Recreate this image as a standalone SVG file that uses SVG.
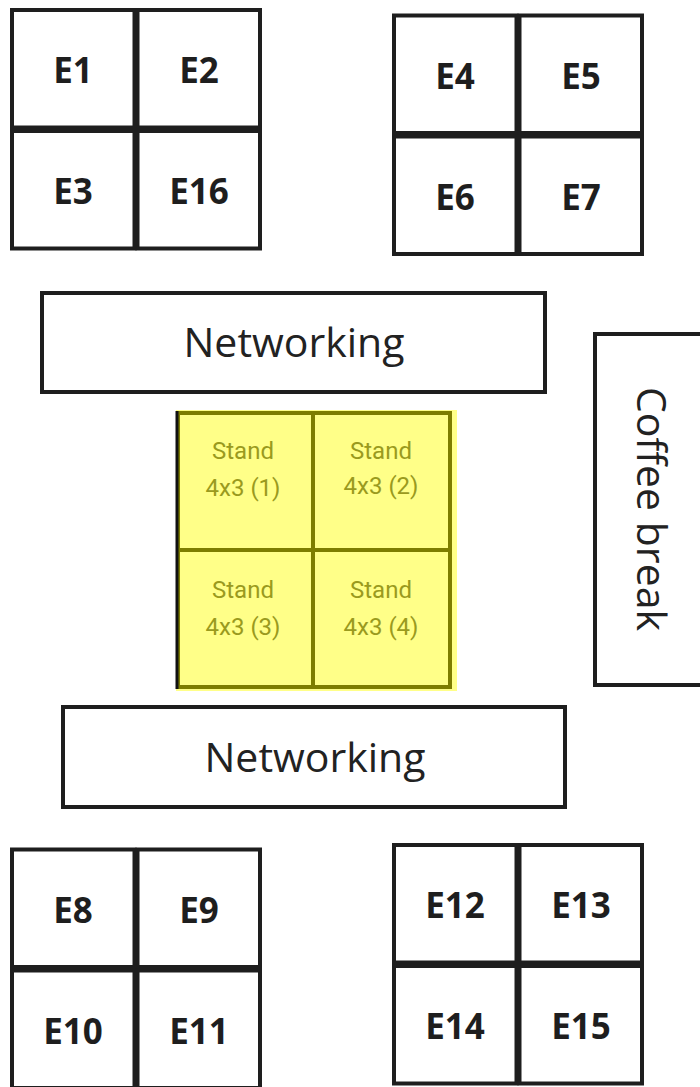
<svg xmlns="http://www.w3.org/2000/svg" width="700" height="1087" viewBox="0 0 700 1087">
<style>
  .cell { fill: #ffffff; stroke: #1e1e1e; stroke-width: 4; }
  .box { fill: #ffffff; stroke: #1e1e1e; stroke-width: 4; }
  .elabel { font-family: "Open Sans", "Noto Sans", "DejaVu Sans", sans-serif; font-weight: 700; font-size: 35px; fill: #1e1e1e; text-anchor: middle; }
  .big { font-family: "Open Sans", "Noto Sans", "DejaVu Sans", sans-serif; font-size: 41px; fill: #222222; text-anchor: middle; }
  .stand { fill: #ffff88; stroke: #7d7d00; stroke-width: 4; }
  .slabel { font-family: Roboto, "Liberation Sans", sans-serif; font-size: 24px; fill: #9a9a1e; text-anchor: middle; }
</style>
<rect x="0" y="0" width="700" height="1087" fill="#ffffff"/>

<g id="block-top-left" transform="translate(12,10)">
  <g id="E1"><rect class="cell" x="0" y="0" width="122.5" height="117.5"/><text class="elabel" x="61" y="73">E1</text></g>
  <g id="E2"><rect class="cell" x="125.5" y="0" width="122.5" height="117.5"/><text class="elabel" x="187" y="73">E2</text></g>
  <g id="E3"><rect class="cell" x="0" y="121" width="122.5" height="117.5"/><text class="elabel" x="61" y="194">E3</text></g>
  <g id="E16"><rect class="cell" x="125.5" y="121" width="122.5" height="117.5"/><text class="elabel" x="187" y="194">E16</text></g>
</g>

<g id="block-top-right" transform="translate(394,15.5)">
  <g id="E4"><rect class="cell" x="0" y="0" width="122.5" height="117.5"/><text class="elabel" x="61" y="73">E4</text></g>
  <g id="E5"><rect class="cell" x="125.5" y="0" width="122.5" height="117.5"/><text class="elabel" x="187" y="73">E5</text></g>
  <g id="E6"><rect class="cell" x="0" y="121" width="122.5" height="117.5"/><text class="elabel" x="61" y="194">E6</text></g>
  <g id="E7"><rect class="cell" x="125.5" y="121" width="122.5" height="117.5"/><text class="elabel" x="187" y="194">E7</text></g>
</g>

<g id="networking-1">
  <rect class="box" x="42" y="293" width="503" height="99"/>
  <text class="big" x="294" y="357">Networking</text>
</g>

<g id="coffee-break">
  <rect class="box" x="595" y="334" width="130" height="351"/>
  <text class="big" transform="translate(637,509) rotate(90)" x="0" y="0">Coffee break</text>
</g>

<g id="stands">
  <rect x="176" y="410" width="281" height="281" fill="#ffff88"/>
  <g id="stand-1"><rect class="stand" x="178" y="413" width="135" height="137"/><text class="slabel" x="243" y="459">Stand</text><text class="slabel" x="243" y="496">4x3 (1)</text></g>
  <g id="stand-2"><rect class="stand" x="313" y="413" width="137" height="137"/><text class="slabel" x="381" y="459">Stand</text><text class="slabel" x="381" y="494">4x3 (2)</text></g>
  <g id="stand-3"><rect class="stand" x="178" y="550" width="135" height="137"/><text class="slabel" x="243" y="598">Stand</text><text class="slabel" x="243" y="635">4x3 (3)</text></g>
  <g id="stand-4"><rect class="stand" x="313" y="550" width="137" height="137"/><text class="slabel" x="381" y="598">Stand</text><text class="slabel" x="381" y="635">4x3 (4)</text></g>
  <line x1="177" y1="411" x2="177" y2="689" stroke="#111111" stroke-width="3"/>
</g>

<g id="networking-2">
  <rect class="box" x="63" y="707" width="502" height="100"/>
  <text class="big" x="315" y="772">Networking</text>
</g>

<g id="block-bottom-left" transform="translate(12,849.5)">
  <g id="E8"><rect class="cell" x="0" y="0" width="122.5" height="117.5"/><text class="elabel" x="61" y="73">E8</text></g>
  <g id="E9"><rect class="cell" x="125.5" y="0" width="122.5" height="117.5"/><text class="elabel" x="187" y="73">E9</text></g>
  <g id="E10"><rect class="cell" x="0" y="121" width="122.5" height="117.5"/><text class="elabel" x="61" y="194">E10</text></g>
  <g id="E11"><rect class="cell" x="125.5" y="121" width="122.5" height="117.5"/><text class="elabel" x="187" y="194">E11</text></g>
</g>

<g id="block-bottom-right" transform="translate(394,845)">
  <g id="E12"><rect class="cell" x="0" y="0" width="122.5" height="117.5"/><text class="elabel" x="61" y="73">E12</text></g>
  <g id="E13"><rect class="cell" x="125.5" y="0" width="122.5" height="117.5"/><text class="elabel" x="187" y="73">E13</text></g>
  <g id="E14"><rect class="cell" x="0" y="121" width="122.5" height="117.5"/><text class="elabel" x="61" y="194">E14</text></g>
  <g id="E15"><rect class="cell" x="125.5" y="121" width="122.5" height="117.5"/><text class="elabel" x="187" y="194">E15</text></g>
</g>

<g id="connectors"></g>
</svg>
